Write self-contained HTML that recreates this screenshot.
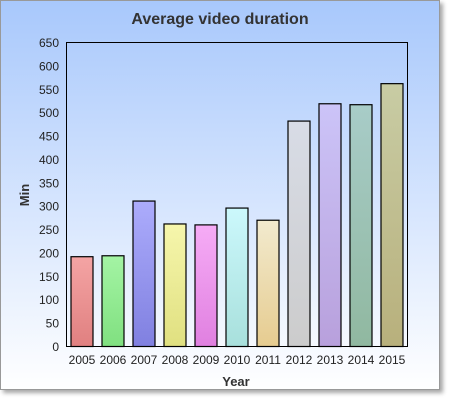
<!DOCTYPE html>
<html><head><meta charset="utf-8"><style>
body{margin:0;background:#fff;font-family:"Liberation Sans","DejaVu Sans",sans-serif}
</style></head><body>
<svg id="c" width="450" height="400" xmlns="http://www.w3.org/2000/svg">
<defs>
<linearGradient id="bg" x1="0" y1="0" x2="0" y2="1"><stop offset="0" stop-color="#a8c8fc"/><stop offset="1" stop-color="#ffffff"/></linearGradient>
<filter id="sh" x="-5%" y="-5%" width="115%" height="115%"><feDropShadow dx="3" dy="3" stdDeviation="2" flood-color="#000" flood-opacity="0.35"/></filter>
</defs>
<rect x="0.5" y="0.5" width="439" height="389" fill="url(#bg)" stroke="#999" filter="url(#sh)"/>
<text x="220" y="24" text-anchor="middle" font-size="16" font-weight="bold" fill="#333">Average video duration</text>
<g id="plot"></g>
<rect x="66.5" y="42.5" width="341" height="304" fill="none" stroke="#000"/>
<text x="236" y="386" text-anchor="middle" font-size="13" font-weight="bold" fill="#333">Year</text>
<text transform="translate(29,195) rotate(-90)" text-anchor="middle" font-size="13" font-weight="bold" fill="#333">Min</text>
</svg>
<script>
const categories=["2005","2006","2007","2008","2009","2010","2011","2012","2013","2014","2015"];
const values=[192,194,311,262,260,296,270,482,519,517,562];
const yTicks=[0,50,100,150,200,250,300,350,400,450,500,550,600,650];
const colorsTop=["#f4a4a4","#a4f4a4","#acacfc","#f6f6ac","#f6acf6","#ccf8fc","#f2eace","#d8dce6","#ccc4f8","#a8ccc8","#c8cca4"];
const colorsBot=["#e08080","#80e080","#8080e0","#e0e080","#e080e0","#a8e0dc","#e6cc90","#cccccc","#b8a0dc","#90b8a0","#b8b07c"];
const NS="http://www.w3.org/2000/svg";
const L=66.5,R=407.5,T=42.5,B=346.5;
const y=v=>B-(v/650)*(B-T);
const cw=(R-L)/categories.length;
const x=i=>L+cw*(i+0.5);
const g=document.getElementById('plot');
const defs=document.querySelector('defs');
function mk(t,a,p){const e=document.createElementNS(NS,t);for(const k in a)e.setAttribute(k,a[k]);(p||g).appendChild(e);return e;}
yTicks.forEach(v=>{
 const t=mk('text',{x:59,y:y(v)+4.5,'text-anchor':'end','font-size':12,fill:'#222'});t.textContent=v;
 
 
});
categories.forEach((c,i)=>{
 const gr=mk('linearGradient',{id:'g'+i,x1:0,y1:0,x2:0,y2:1},defs);
 mk('stop',{offset:0,'stop-color':colorsTop[i]},gr);mk('stop',{offset:1,'stop-color':colorsBot[i]},gr);
 const b=mk('rect',{x:x(i)-11,y:y(values[i]),width:22,height:B-y(values[i]),fill:'url(#g'+i+')',stroke:'#000','stroke-width':1.2});
 
 
 const t=mk('text',{x:x(i),y:364,'text-anchor':'middle','font-size':12,fill:'#222'});t.textContent=c;
 
 
});
</script>
</body></html>
